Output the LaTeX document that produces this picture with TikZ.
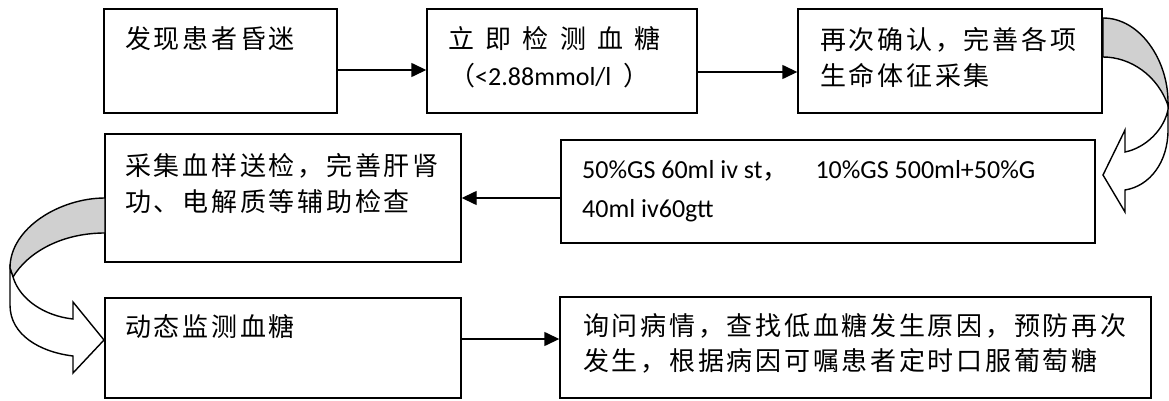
\documentclass[tikz,border=0pt]{standalone}
\usepackage{fontspec}
\setmainfont{Carlito}
\newfontfamily\cjk{Noto Sans CJK SC}[LetterSpace=10.5]
\usetikzlibrary{arrows.meta}
\definecolor{bandgray}{RGB}{208,208,208}
\begin{document}
\begin{tikzpicture}[x=1pt,y=-1pt,
  box/.style={draw, line width=1.4pt, inner sep=0pt, fill=white},
  arr/.style={line width=1.4pt, -{Triangle[length=15pt,width=14pt]}},
  cj/.style={anchor=base west, inner sep=0pt, font=\cjk\fontsize{26}{36}\selectfont},
  lt/.style={anchor=base west, inner sep=0pt, font=\fontsize{26}{36}\selectfont},
  band/.style={draw, line width=1.4pt, fill=bandgray, line join=round},
  front/.style={draw, line width=1.4pt, fill=white, line join=miter}]
\useasboundingbox (0,0) rectangle (1169,401);

% boxes
\node[box, minimum width=233pt, minimum height=104pt] (b1) at (220.5,61) {};
\node[box, minimum width=270pt, minimum height=104pt] (b2) at (562,61) {};
\node[box, minimum width=304pt, minimum height=104pt] (b3) at (950,61) {};
\node[box, minimum width=356pt, minimum height=128pt] (b4) at (283,198) {};
\node[box, minimum width=534pt, minimum height=103pt] (b5) at (828,191.5) {};
\node[box, minimum width=356pt, minimum height=100pt] (b6) at (283,348) {};
\node[box, minimum width=591pt, minimum height=101pt] (b7) at (855.5,347.5) {};

% texts
\node[cj] (t1) at (125,49) {发现患者昏迷};
\node[cj] (t2a) at (448,49) {立\hspace{11.3pt}即\hspace{11.3pt}检\hspace{11.3pt}测\hspace{11.3pt}血\hspace{11.3pt}糖};
\node[lt] (t2b) at (449,86) {{\cjk （}<2.88mmol/l \ {\cjk ）}};
\node[cj] (t3a) at (820,50) {再次确认，完善各项};
\node[cj] (t3b) at (820,86) {生命体征采集};
\node[cj] (t4a) at (125,175) {采集血样送检，完善肝肾};
\node[cj] (t4b) at (125,211) {功、电解质等辅助检查};
\node[lt] (t5a) at (582,178) {50\%GS 60ml iv st{\cjk ，}\hspace{27pt}10\%GS 500ml+50\%G};
\node[lt] (t5b) at (582,217) {40ml iv60gtt};
\node[cj] (t6) at (125,336) {动态监测血糖};
\node[cj] (t7a) at (583,335) {询问病情，查找低血糖发生原因，预防再次};
\node[cj] (t7b) at (583,370) {发生，根据病因可嘱患者定时口服葡萄糖};

% straight connectors
\coordinate (y1) at (0,70);
\coordinate (y2) at (0,72);
\coordinate (y3) at (0,198);
\coordinate (y4) at (0,339);
\draw[arr] (b1.east |- y1) -- (b2.west |- y1);
\draw[arr] (b2.east |- y2) -- (b3.west |- y2);
\draw[arr] (b5.west |- y3) -- (b4.east |- y3);
\draw[arr] (b6.east |- y4) -- (b7.west |- y4);

% curved arrow top right (b3 -> b5)
\draw[band] (1103,18) .. controls (1140,18) and (1168,60) .. (1168,102)
  -- (1168.5,107) .. controls (1158,75) and (1130,57) .. (1103,57) -- cycle;
\draw[front] (1168,102) -- (1168,130) .. controls (1168,162) and (1150,186) .. (1125,190)
  -- (1125,212) -- (1103,175) -- (1125,130) -- (1125,152)
  .. controls (1145,148) and (1165,130) .. (1168.5,107) -- cycle;

% curved arrow bottom left (b4 -> b6)
\draw[band] (105,198) .. controls (60,198) and (10,228) .. (10,268)
  -- (13,277) .. controls (28,252) and (62,233) .. (105,233) -- cycle;
\draw[front] (10,268) -- (10,305) .. controls (10,335) and (40,352) .. (73,356)
  -- (73,373) -- (104,340) -- (73,302) -- (73,319)
  .. controls (45,316) and (20,300) .. (13,277) -- cycle;
\end{tikzpicture}
\end{document}
